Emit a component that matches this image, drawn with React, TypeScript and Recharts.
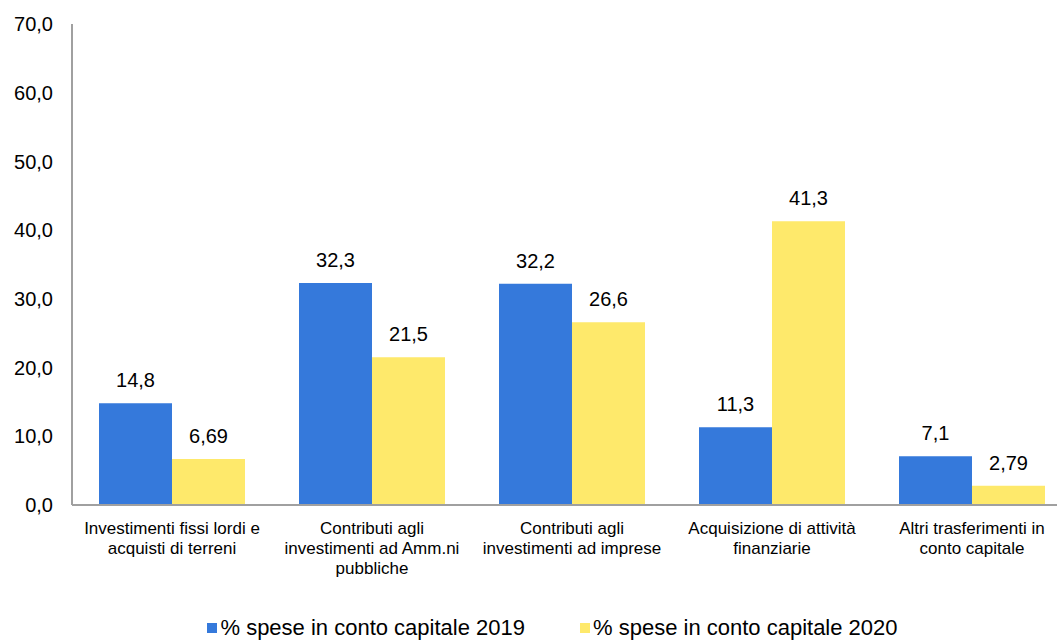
import { Bar, BarChart, LabelList, Legend, XAxis, YAxis } from "recharts";

const categories = [
  "Investimenti fissi lordi e\nacquisti di terreni",
  "Contributi agli\ninvestimenti ad Amm.ni\npubbliche",
  "Contributi agli\ninvestimenti ad imprese",
  "Acquisizione di attività\nfinanziarie",
  "Altri trasferimenti in\nconto capitale",
];
const spese2019 = [14.8, 32.3, 32.2, 11.3, 7.1];
const spese2020 = [6.69, 21.5, 26.6, 41.3, 2.79];
const yTicks = [0, 10, 20, 30, 40, 50, 60, 70];

const data = categories.map((name, i) => ({
  name,
  s2019: spese2019[i],
  s2020: spese2020[i],
}));

const FONT = '"Liberation Sans", Arial, sans-serif';
const BLUE = "#3579DB";
const YELLOW = "#FEE96B";

const fmt = (v: number) => String(v).replace(".", ",");

function CategoryTick(props: any) {
  const { x, y, payload } = props;
  const lines = String(payload.value).split("\n");
  return (
    <text x={x} y={y + 21} textAnchor="middle" fill="#000" fontSize={17} fontFamily={FONT}>
      {lines.map((l, i) => (
        <tspan key={i} x={x} dy={i === 0 ? 0 : 20}>
          {l}
        </tspan>
      ))}
    </text>
  );
}

function LegendContent() {
  const items = [
    { label: "% spese in conto capitale 2019", color: BLUE },
    { label: "% spese in conto capitale 2020", color: YELLOW },
  ];
  return (
    <div
      style={{
        display: "flex",
        justifyContent: "center",
        gap: 55,
        paddingLeft: 33,
        paddingTop: 11,
        fontFamily: FONT,
        fontSize: 22,
        lineHeight: "24px",
      }}
    >
      {items.map((it) => (
        <div key={it.label} style={{ display: "flex", alignItems: "center", gap: 3 }}>
          <span style={{ display: "inline-block", width: 10, height: 10, background: it.color }} />
          <span style={{ color: "#000" }}>{it.label}</span>
        </div>
      ))}
    </div>
  );
}

export default function App() {
  return (
    <div style={{ position: "absolute", left: 0, top: 0, width: 1057, height: 644, overflow: "hidden", background: "#fff" }}>
      <BarChart
        width={1080}
        height={644}
        data={data}
        margin={{ top: 24, right: 8, left: 0, bottom: 0 }}
        barGap={0}
        barCategoryGap={27}
      >
        <XAxis
          dataKey="name"
          height={100}
          interval={0}
          tick={<CategoryTick />}
          tickLine={false}
          axisLine={{ stroke: "#a0a0a0", strokeWidth: 2 }}
        />
        <YAxis
          width={72}
          domain={[0, 70]}
          ticks={yTicks}
          tickFormatter={(v: number) => v.toFixed(1).replace(".", ",")}
          tick={{ fill: "#000", fontSize: 20, fontFamily: FONT }}
          tickLine={false}
          tickMargin={13}
          axisLine={{ stroke: "#a0a0a0", strokeWidth: 2 }}
        />
        <Legend verticalAlign="bottom" height={39} content={<LegendContent />} />
        <Bar dataKey="s2019" fill={BLUE} isAnimationActive={false}>
          <LabelList dataKey="s2019" position="top" offset={16} formatter={(v: any) => fmt(v)} fill="#000" fontSize={20} fontFamily={FONT} />
        </Bar>
        <Bar dataKey="s2020" fill={YELLOW} isAnimationActive={false}>
          <LabelList dataKey="s2020" position="top" offset={16} formatter={(v: any) => fmt(v)} fill="#000" fontSize={20} fontFamily={FONT} />
        </Bar>
      </BarChart>
    </div>
  );
}
